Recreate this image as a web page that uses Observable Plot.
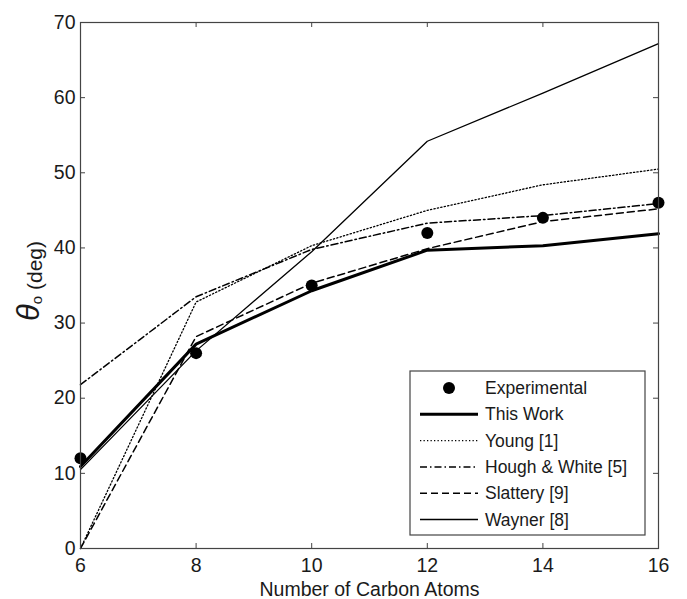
<!DOCTYPE html>
<html>
<head>
<meta charset="utf-8">
<script src="https://cdn.jsdelivr.net/npm/d3@7"></script>
<script src="https://cdn.jsdelivr.net/npm/@observablehq/plot@0.6"></script>
<style>
  html, body { margin: 0; padding: 0; background: #fff; }
  #chart { width: 687px; height: 599px; }
  svg { font-family: "Liberation Sans", Arial, sans-serif; }
</style>
</head>
<body>
<div id="chart"></div>
<script>
// ---- data ----
const carbonAtoms = [6, 8, 10, 12, 14, 16];
const experimental = [12, 26, 35, 42, 44, 46];
const thisWork = [10.9, 27.2, 34.3, 39.7, 40.3, 41.9];
const young = [0, 32.8, 40.3, 45, 48.4, 50.5];
const houghWhite = [21.8, 33.5, 39.8, 43.3, 44.3, 45.9];
const slattery = [0, 28.2, 35.3, 39.9, 43.5, 45.2];
const wayner = [10.5, 26.3, 39.5, 54.2, 60.6, 67.2];
const xTicks = [6, 8, 10, 12, 14, 16];
const yTicks = [0, 10, 20, 30, 40, 50, 60, 70];
const seriesNames = ["Experimental", "This Work", "Young [1]", "Hough & White [5]", "Slattery [9]", "Wayner [8]"];

// ---- styles (presentation only) ----
const lineStyles = {
  "This Work": {strokeWidth: 3, dash: null},
  "Young [1]": {strokeWidth: 1.3, dash: "1.3,2.2"},
  "Hough & White [5]": {strokeWidth: 1.5, dash: "7,3,1.5,3"},
  "Slattery [9]": {strokeWidth: 1.5, dash: "7,4"},
  "Wayner [8]": {strokeWidth: 1.3, dash: null}
};
const lineSeries = [
  ["This Work", thisWork],
  ["Young [1]", young],
  ["Hough & White [5]", houghWhite],
  ["Slattery [9]", slattery],
  ["Wayner [8]", wayner]
];

const W = 687, H = 599;
const mL = 80, mR = 29, mT = 22, mB = 51;
const plotH = H - mT - mB;
const tickLen = 5;
const axisColor = "#444";
const textColor = "#1a1a1a";

const lineMarks = lineSeries.map(([name, vals]) =>
  Plot.line(carbonAtoms.map((c, i) => ({x: c, y: vals[i]})), {
    x: "x", y: "y",
    stroke: "#000",
    strokeWidth: lineStyles[name].strokeWidth,
    strokeDasharray: lineStyles[name].dash,
    strokeLinejoin: "round"
  })
);

const chart = Plot.plot({
  width: W, height: H,
  marginLeft: mL, marginRight: mR, marginTop: mT, marginBottom: mB,
  style: {fontFamily: "'Liberation Sans', Arial, sans-serif", fontSize: "19.5px", color: textColor, background: "#fff"},
  x: {domain: [6, 16]},
  y: {domain: [0, 70]},
  marks: [
    // inward ticks on all four sides
    Plot.tickX(xTicks, {x: d => d, stroke: axisColor, insetTop: plotH - tickLen}),
    Plot.tickX(xTicks, {x: d => d, stroke: axisColor, insetBottom: plotH - tickLen}),
    Plot.tickY(yTicks, {y: d => d, stroke: axisColor, insetRight: (W - mL - mR) - tickLen}),
    Plot.tickY(yTicks, {y: d => d, stroke: axisColor, insetLeft: (W - mL - mR) - tickLen}),
    ...lineMarks,
    Plot.dot(carbonAtoms.map((c, i) => ({x: c, y: experimental[i]})), {x: "x", y: "y", r: 6, fill: "#000", stroke: "none"}),
    Plot.frame({stroke: axisColor, strokeWidth: 1.2}),
    Plot.axisX(xTicks, {tickSize: 0, tickPadding: 10, fill: textColor, label: "Number of Carbon Atoms", labelAnchor: "center", labelArrow: "none", labelOffset: 47}),
    Plot.axisY(yTicks, {tickSize: 0, tickPadding: 5, fill: textColor, label: null})
  ]
});

document.getElementById("chart").appendChild(chart);

// ---- y-axis label: θ_o (deg) ----
const svg = d3.select(chart);
const ylab = svg.append("text")
  .attr("transform", `translate(39, ${mT + plotH / 2 - 4}) rotate(-90)`)
  .attr("text-anchor", "middle")
  .attr("fill", textColor);
ylab.append("tspan").attr("font-style", "italic").attr("font-size", 31).text("θ");
ylab.append("tspan").attr("font-size", 15).attr("dy", 3).text("o");
ylab.append("tspan").attr("font-size", 21).attr("dy", 0).text(" (deg)");

// ---- legend ----
const lg = svg.append("g").attr("text-anchor", "start");
const box = {x: 410, y: 371, w: 235, h: 164};
lg.append("rect").attr("x", box.x).attr("y", box.y).attr("width", box.w).attr("height", box.h)
  .attr("fill", "#fff").attr("stroke", axisColor).attr("stroke-width", 1.2);
const rowY0 = 388, rowStep = 26.3, sx0 = 420, sx1 = 478, tx = 485;
seriesNames.forEach((name, i) => {
  const y = rowY0 + i * rowStep;
  if (name === "Experimental") {
    lg.append("circle").attr("cx", (sx0 + sx1) / 2).attr("cy", y).attr("r", 6).attr("fill", "#000");
  } else {
    const st = lineStyles[name];
    lg.append("line").attr("x1", sx0).attr("x2", sx1).attr("y1", y).attr("y2", y)
      .attr("stroke", "#000").attr("stroke-width", st.strokeWidth)
      .attr("stroke-dasharray", st.dash);
  }
  lg.append("text").attr("x", tx).attr("y", y).attr("dy", "0.35em")
    .attr("text-anchor", "start")
    .attr("font-size", 17.5).attr("fill", textColor).text(name);
});
</script>
</body>
</html>
